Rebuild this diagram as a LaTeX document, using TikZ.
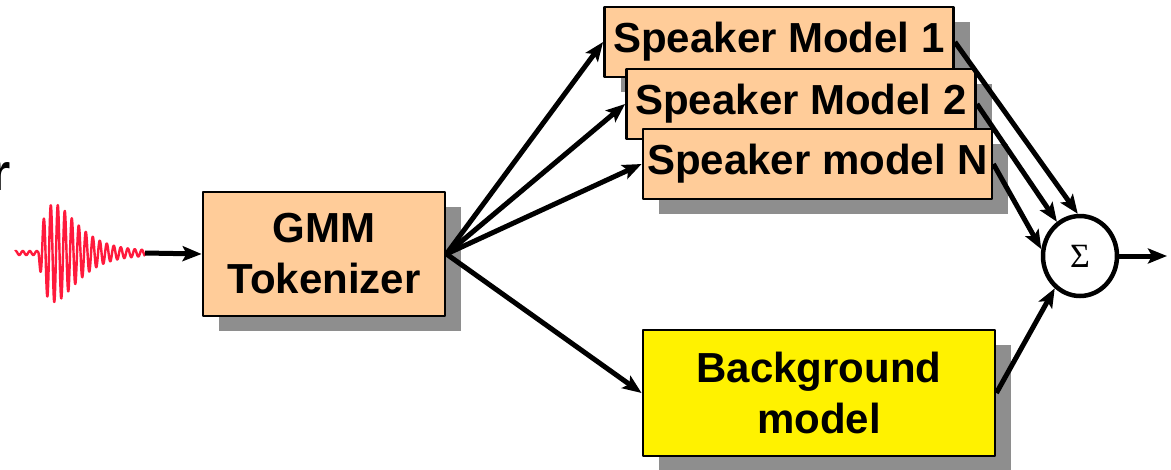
\documentclass[tikz,border=0pt]{standalone}
\usepackage{fontspec}
\setmainfont{Liberation Sans}
\newfontfamily\sigmafont{Liberation Serif}
\usetikzlibrary{arrows.meta,shapes.geometric,shadows}
\definecolor{peach}{HTML}{FFCC99}
\definecolor{shadowgray}{HTML}{8E8E8E}
\definecolor{wavered}{HTML}{FF1A3C}
\tikzset{
  model/.style={draw=black, line width=2.8pt, inner sep=0pt, align=center,
    font=\fontsize{42}{51}\selectfont\bfseries,
    drop shadow={shadow xshift=16pt, shadow yshift=-15pt, fill=shadowgray, opacity=1}},
  speaker/.style={model, fill=peach, minimum width=349pt, minimum height=70pt},
  link/.style={line width=5pt, -{Stealth[length=19pt,width=15pt,inset=4pt]}},
  wave/.style={wavered, line width=2.4pt, line join=round},
  cut/.style={inner sep=0pt, font=\fontsize{52}{52}\selectfont\bfseries}
}
\begin{document}
\begin{tikzpicture}[x=1pt, y=-1pt, line join=round]
% Bild 1171 x 469, y nach unten
\useasboundingbox (0,0) rectangle (1171,469);
\fill[white] (0,0) rectangle (1171,469);
\clip (0,0) rectangle (1171,469);
% Reste der Beschriftung am linken Rand
\node[cut, anchor=base east] (lblA) at (11,190) {r};
\node[cut, anchor=base east] (lblB) at (2,300) {n};
% Sprachsignal
\draw[wave] plot[domain=15:145, samples=700]
  (\x, {253 - (2 + 47*max(\x-38,0)/16*exp(1-max(\x-38,0)/16))*sin(\x*51.4)});
\coordinate (waveend) at (145,253);
% Bloecke
\node[model, fill=peach, minimum width=242pt, minimum height=124pt] (gmm) at (324,254) {GMM\\Tokenizer};
\node[speaker] (spk1) at (779,42) {Speaker Model 1};
\node[speaker] (spk2) at (801,104) {Speaker Model 2};
\node[speaker] (spkN) at (817.5,164) {Speaker model N};
\node[model, fill=yellow, minimum width=352pt, minimum height=126pt] (bg) at (819,393) {Background\\model};
% Summierer
\node[ellipse, draw, line width=4.5pt, fill=white, minimum width=74pt, minimum height=80pt, inner sep=0pt] (sum) at (1080,256)
  {\sigmafont\fontsize{34}{34}\selectfont Σ};
\coordinate (out) at (1167,256);
% Verbindungen
\draw[link] (waveend) -- (gmm.west);
\draw[link] (gmm.east) -- (spk1.west);
\draw[link] (gmm.east) -- (spk2.west);
\draw[link] (gmm.east) -- (spkN.west);
\draw[link] (gmm.east) -- (bg.west);
\draw[link] (spk1.east) -- (sum.93);
\draw[link] (spk2.east) -- (sum.124);
\draw[link] (spkN.east) -- (sum.170);
\draw[link] (bg.east) -- (sum.232);
\draw[link] (sum.east) -- (out);
\end{tikzpicture}
\end{document}
